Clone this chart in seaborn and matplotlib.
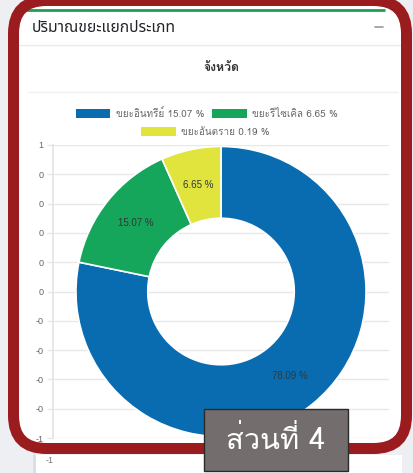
import matplotlib
matplotlib.use('Agg')
import matplotlib.pyplot as plt
import seaborn as sns
import numpy as np
from matplotlib.patches import Patch, FancyBboxPatch, Rectangle
from matplotlib.font_manager import FontProperties

# ---- data ----
slice_values = [78.09, 15.07, 6.65]
slice_colors = ['#0a6cb0', '#15a55b', '#e1e43c']
legend_labels = ['ขยะอินทรีย์ 15.07 %', 'ขยะรีไซเคิล 6.65 %', 'ขยะอันตราย 0.19 %']
y_ticks = [1.0, 0.8, 0.6, 0.4, 0.2, 0.0, -0.2, -0.4, -0.6, -0.8, -1.0]
y_tick_labels = ['1', '0', '0', '0', '0', '0', '-0', '-0', '-0', '-0', '-1']
card_title = 'ปริมาณขยะแยกประเภท'
chart_title = 'จังหวัด'
tag_text = 'ส่วนที่ 4'

W, H = 414, 473

sns.set_theme(style='white')
plt.rcParams['font.family'] = ['Liberation Sans', 'DejaVu Sans']
THAI = ['Noto Sans Thai', 'Liberation Sans']
LOMA = ['Loma', 'Liberation Sans']

fig = plt.figure(figsize=(W / 100, H / 100), dpi=100)
fig.patch.set_facecolor('#edeff3')

# background layer in pixel coords (y down)
bg = fig.add_axes([0, 0, 1, 1], zorder=0)
bg.set_xlim(0, W)
bg.set_ylim(H, 0)
bg.axis('off')
bg.add_patch(FancyBboxPatch((13.5, 0.5), 393, 448, boxstyle='round,pad=0,rounding_size=33',
                            fc='white', ec='none'))
bg.add_patch(Rectangle((33, 455), 369, 20, fc='white', ec='none'))
bg.plot([34.5, 34.5], [455, 473], color='#d9dce2', lw=2)
bg.text(50, 460, '-1', fontsize=6.5, color='#777', ha='center', va='center')
bg.plot([25, 385], [10, 10], color='#1f9e5a', lw=2, solid_capstyle='butt')
bg.text(32, 28, card_title, family=THAI, fontsize=11.3, fontweight='medium',
        color='#212529', ha='left', va='center')
bg.plot([375, 383], [27, 27], color='#9a9a9a', lw=1.2)
bg.plot([19, 401], [45, 45], color='#e9ecef', lw=1)
bg.text(221, 68, chart_title, family=LOMA, fontsize=8.8, fontweight='bold',
        color='#333333', ha='center', va='center')
bg.plot([28, 398], [92, 92], color='#eef0f2', lw=1)

# chart: y range -1..1 maps to px 145..438, x grid from px 53 to 389
ax = fig.add_axes([53 / W, (H - 438) / H, 336 / W, 293 / H], zorder=1)
ax.patch.set_alpha(0)
wedges, _ = ax.pie(slice_values, colors=slice_colors, startangle=90, counterclock=False,
                   radius=0.99, frame=True,
                   wedgeprops=dict(width=0.49, edgecolor='white', linewidth=1.2))
ring_mid = 0.99 - 0.49 / 2
for w, v in zip(wedges, slice_values):
    ang = np.deg2rad((w.theta1 + w.theta2) / 2)
    ax.text(ring_mid * np.cos(ang), ring_mid * np.sin(ang), f'{v:.2f} %',
            fontsize=7, color='#2d3a3a', ha='center', va='center')

ax.set_aspect('auto')
half_x = (336 / 293)
ax.set_xlim(-half_x, half_x)
ax.set_ylim(-1, 1)
ax.set_yticks(y_ticks)
ax.set_yticklabels(y_tick_labels)
ax.set_xticks([])
ax.yaxis.grid(True, color='#e8e8e8', lw=1)
ax.set_axisbelow(True)
for side in ['top', 'right', 'bottom']:
    ax.spines[side].set_visible(False)
ax.spines['left'].set_color('#e4e4e4')
ax.tick_params(axis='y', left=True, length=4, width=1, color='#e8e8e8',
               labelsize=6.5, labelcolor='#666666', pad=3)

# legend, two rows centred like the web chart
handles = [Patch(fc=c, ec='none') for c in slice_colors]
leg_font = FontProperties(family=LOMA, size=7.1)
leg_kw = dict(loc='center', frameon=False, handlelength=3.5, handleheight=1.05,
              handletextpad=0.55, columnspacing=0.8, prop=leg_font, labelcolor='#666666',
              borderpad=0, borderaxespad=0)
leg1 = fig.legend(handles[:2], legend_labels[:2], ncol=2,
                  bbox_to_anchor=(207 / W, 1 - 113 / H), **leg_kw)
leg2 = fig.legend(handles[2:], legend_labels[2:], ncol=1,
                  bbox_to_anchor=(205.5 / W, 1 - 132 / H), **leg_kw)

# overlay: red frame and the grey tag box
top = fig.add_axes([0, 0, 1, 1], zorder=3)
top.set_xlim(0, W)
top.set_ylim(H, 0)
top.axis('off')
top.patch.set_alpha(0)
top.add_patch(FancyBboxPatch((13.5, 0.5), 393, 448, boxstyle='round,pad=0,rounding_size=33',
                             fc='none', ec='#9b1c1f', lw=11 * 0.72))
top.add_patch(Rectangle((204.5, 408.5), 143.5, 62, fc='#736e6d', ec='#2a2a2a', lw=1))
top.text(276, 440, tag_text, family=LOMA, fontsize=21,
         color='white', ha='center', va='center')

fig.savefig('out.png', dpi=100, facecolor=fig.get_facecolor())
